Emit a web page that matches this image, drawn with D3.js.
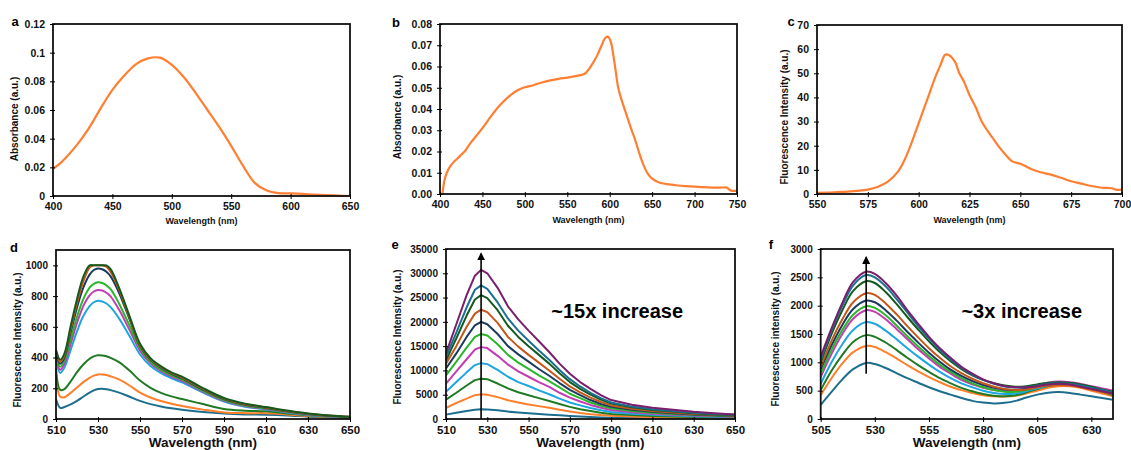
<!DOCTYPE html>
<html>
<head>
<meta charset="utf-8">
<script src="https://cdn.jsdelivr.net/npm/d3@7"></script>
<style>
  body { margin: 0; background: #fff; }
  svg { display: block; font-family: "Liberation Sans", Arial, sans-serif; font-weight: bold; }
</style>
</head>
<body>
<div id="chart"></div>
<script>
// ---- panel a: absorbance ----
const aWl = [400,405,410,420,430,440,450,460,470,480,490,500,510,520,530,540,550,560,570,580,590,600,610,620,630,640,650];
const aAbs = [0.019,0.022,0.026,0.0355,0.047,0.061,0.074,0.084,0.092,0.096,0.0965,0.0915,0.083,0.072,0.060,0.048,0.035,0.021,0.009,0.0038,0.002,0.0018,0.0015,0.001,0.0006,0.0003,0.0];

// ---- panel b: absorbance ----
const bWl = [403,405,408,412,416,420,425,430,435,440,450,460,470,480,490,500,510,520,530,540,550,560,570,575,580,585,590,595,598,601,604,607,610,615,620,625,630,635,640,645,650,655,660,670,680,690,700,710,720,730,738,741,744,750];
const bAbs = [0,0.006,0.010,0.013,0.015,0.0165,0.0185,0.0205,0.0235,0.026,0.031,0.0365,0.0415,0.0455,0.0485,0.0502,0.0512,0.0525,0.0535,0.0542,0.0548,0.0555,0.0565,0.0585,0.0615,0.065,0.0695,0.0735,0.074,0.072,0.066,0.058,0.050,0.043,0.037,0.031,0.0255,0.019,0.0135,0.0095,0.0072,0.006,0.0052,0.0045,0.004,0.0037,0.0035,0.0032,0.003,0.003,0.003,0.002,0.0015,0.0015];

// ---- panel c: fluorescence ----
const cWl = [550,555,560,565,570,575,580,585,590,593,596,599,602,605,608,611,613,615,618,620,622,625,628,631,634,637,640,643,646,650,655,660,665,670,675,680,685,690,695,697,700];
const cInt = [0.5,0.6,0.8,1.0,1.3,1.8,3.0,5.2,9.5,14,20,27,34,41,48,54,57.7,57.5,54.5,50,47,41,36,30,26,22.5,19,16,13.5,12.5,10.5,9,8,6.7,5.3,4.3,3.3,2.6,2.4,1.8,1.8];

// ---- panel d: fluorescence titration (saturates at 1000) ----
const dWl = [510,512,514,517,520,523,526,528,530,532,534,536,540,545,550,555,560,565,570,580,590,600,610,620,630,640,650];
const d1 = [130,72,78,95,118,145,172,186,195,197,194,188,172,145,118,97,82,70,60,45,35,30,28,23,15,9,5];
const d2 = [270,145,142,170,205,240,268,282,290,290,286,278,258,218,172,140,117,99,84,61,43,38,38,30,20,12,6];
const d3v = [330,190,195,245,305,355,392,408,415,414,408,398,370,315,250,203,170,147,130,97,65,54,50,36,25,15,8];
const d4 = [380,300,335,450,570,670,735,760,770,765,752,728,655,540,420,345,298,265,238,172,114,80,62,42,26,16,10];
const d5 = [395,320,360,490,625,735,805,830,840,836,822,798,712,580,445,362,312,276,248,178,118,84,65,45,29,18,10];
const d6 = [410,340,380,520,665,780,855,880,890,885,870,845,752,608,460,372,320,284,256,184,123,88,68,47,31,19,11];
const d7 = [430,360,400,565,725,855,940,970,980,975,958,928,822,650,475,385,332,294,264,192,129,93,72,50,33,21,13];
const d8 = [440,372,412,585,755,895,985,1000,1000,1000,992,958,842,660,482,390,337,299,270,196,133,96,75,52,34,22,14];
const d9 = [450,385,425,605,780,925,1000,1000,1000,1000,1000,975,855,670,490,396,343,304,276,201,137,100,78,55,36,23,15];

// ---- panel e ----
const eWl = [510,515,520,524,527,530,535,540,545,550,555,560,565,570,575,580,585,590,600,610,620,630,640,650];
const e1 = [900,1300,1650,1900,2000,1980,1780,1520,1340,1190,1050,900,750,610,500,400,320,260,200,160,130,100,80,60];
const e2 = [2300,3300,4200,4900,5100,5000,4500,3850,3400,3000,2650,2300,1900,1550,1250,1000,800,650,490,380,310,250,200,150];
const e3 = [4000,5400,6900,8000,8300,8200,7300,6300,5500,4900,4300,3700,3100,2500,2000,1650,1300,1050,800,620,500,400,320,250];
const e4 = [5600,7600,9600,11100,11500,11300,10100,8700,7600,6800,5900,5100,4200,3400,2800,2250,1800,1450,1100,850,700,550,450,350];
const e5 = [7300,9800,12300,14300,14800,14600,13000,11200,9800,8700,7600,6600,5400,4400,3600,2900,2300,1850,1400,1100,900,700,550,450];
const e6 = [9000,11800,14700,16900,17500,17200,15400,13200,11600,10300,9000,7800,6500,5200,4300,3400,2700,2200,1650,1300,1050,850,650,500];
const e7 = [10400,13500,16900,19300,20000,19500,17500,15000,13300,11800,10300,8900,7400,6000,4900,3900,3100,2500,1900,1500,1200,950,750,600];
const e8 = [11400,15000,19000,21700,22500,22000,19800,16900,14900,13200,11600,10000,8300,6700,5500,4400,3500,2800,2100,1650,1350,1050,850,650];
const e9 = [12100,16600,21300,24600,25500,24900,22400,19200,16900,15000,13200,11400,9400,7600,6200,5000,4000,3200,2400,1850,1550,1200,950,750];
const e10 = [12800,17800,23000,26600,27500,26800,24000,20700,18200,16100,14100,12200,10100,8200,6700,5400,4300,3400,2550,2000,1650,1300,1050,850];
const e11 = [13500,19500,25500,29500,30700,30000,27000,23200,20500,18200,16000,13800,11400,9300,7600,6200,4900,3900,2950,2300,1900,1500,1200,950];

// ---- panel f ----
const fWl = [505,510,515,520,526,530,535,540,545,550,555,560,565,570,575,580,585,590,595,600,605,610,615,620,625,630,635,640];
const f1 = [250,480,700,880,990,970,900,810,720,640,560,490,430,370,320,290,275,285,320,380,430,465,475,460,430,400,370,340];
const f2 = [420,720,980,1180,1290,1270,1180,1070,950,840,740,650,570,510,460,420,400,395,410,450,500,550,580,580,550,500,450,400];
const f3 = [510,850,1130,1360,1480,1450,1350,1220,1080,950,830,720,630,550,490,440,410,400,420,470,530,580,610,610,580,530,480,420];
const f4 = [620,1000,1320,1570,1710,1680,1560,1410,1250,1100,960,830,720,630,560,500,460,440,450,490,540,590,620,620,590,540,490,440];
const f5 = [740,1150,1500,1770,1920,1890,1760,1590,1410,1230,1070,920,800,690,610,550,510,490,500,540,600,640,660,650,620,580,540,500];
const f6 = [800,1220,1570,1840,1990,1960,1830,1650,1460,1280,1110,960,830,720,630,560,510,480,480,510,560,600,620,610,580,540,490,450];
const f7 = [880,1300,1660,1940,2090,2060,1920,1740,1540,1350,1170,1010,870,760,670,600,550,520,510,530,570,610,630,620,590,550,500,460];
const f8 = [920,1380,1760,2060,2220,2190,2040,1850,1640,1440,1250,1080,930,810,710,630,570,530,510,520,560,590,600,590,560,520,480,440];
const f9 = [1000,1500,1920,2260,2430,2400,2240,2030,1800,1580,1370,1180,1020,880,770,690,630,590,570,580,610,640,650,640,610,570,520,480];
const f10 = [1050,1560,2000,2360,2540,2500,2340,2120,1880,1640,1420,1220,1050,900,780,690,620,575,555,560,590,620,630,620,590,550,510,470];
const f11 = [1100,1600,2050,2420,2600,2560,2400,2180,1920,1680,1450,1250,1080,920,800,700,630,580,560,560,580,610,620,610,570,530,490,450];

// series colours, low concentration -> high
const titrationColors = ["#1d6e8e","#ff7f2a","#1f7a23","#1ea6e0","#c23db4","#2bb52b","#1b3b5e","#c5571a","#145a1f","#1c6f90","#7a1f6c"];

// ticks
const aXTicks = [400,450,500,550,600,650], aYTicks = [0,0.02,0.04,0.06,0.08,0.1,0.12];
const bXTicks = [400,450,500,550,600,650,700,750], bYTicks = [0,0.01,0.02,0.03,0.04,0.05,0.06,0.07,0.08];
const cXTicks = [550,575,600,625,650,675,700], cYTicks = [0,10,20,30,40,50,60,70];
const dXTicks = [510,530,550,570,590,610,630,650], dYTicks = [0,200,400,600,800,1000];
const eXTicks = [510,530,550,570,590,610,630,650], eYTicks = [0,5000,10000,15000,20000,25000,30000,35000];
const fXTicks = [505,530,555,580,605,630], fYTicks = [0,500,1000,1500,2000,2500,3000];

// arrows and notes
const eArrow = { x: 527, from: 0, to: 34000 };
const fArrow = { x: 526, from: 800, to: 2850 };
const eNote = { text: "~15x increase", x: 561, y: 20800 };
const fNote = { text: "~3x increase", x: 570, y: 1780 };

const svg = d3.select("#chart").append("svg")
    .attr("width", 1131)
    .attr("height", 450);

svg.append("defs").append("marker")
    .attr("id", "arrowhead")
    .attr("viewBox", "0 0 10 10")
    .attr("refX", 8).attr("refY", 5)
    .attr("markerWidth", 5).attr("markerHeight", 6)
    .attr("orient", "auto")
    .append("path")
    .attr("d", "M0,0 L10,5 L0,10 z")
    .attr("fill", "#000");

const trimDecimals = d => String(+d.toFixed(2));

function drawPanel(p) {
    const x = d3.scaleLinear().domain(p.xDomain).range([p.left, p.right]);
    const y = d3.scaleLinear().domain(p.yDomain).range([p.bottom, p.top]);
    const g = svg.append("g");

    // curves
    const line = d3.line()
        .x(d => x(d[0]))
        .y(d => y(d[1]))
        .curve(p.curve);

    p.series.forEach((vals, i) => {
        g.append("path")
            .datum(d3.zip(p.wl, vals))
            .attr("fill", "none")
            .attr("stroke", p.colors[i])
            .attr("stroke-width", p.lineWidth)
            .attr("stroke-linejoin", "round")
            .attr("d", line);
    });

    // plot frame
    g.append("rect")
        .attr("x", p.left).attr("y", p.top)
        .attr("width", p.right - p.left).attr("height", p.bottom - p.top)
        .attr("fill", "none")
        .attr("stroke", "#111")
        .attr("stroke-width", 1.8);

    // x axis (outer ticks + labels, then short inner ticks)
    const xa = g.append("g")
        .attr("transform", `translate(0,${p.bottom})`)
        .call(d3.axisBottom(x).tickValues(p.xTicks).tickSize(3).tickPadding(4).tickFormat(d3.format("d")));
    xa.select(".domain").remove();
    xa.attr("font-family", null).attr("font-size", p.xTickSize);
    xa.selectAll("text").attr("fill", "#111");
    g.append("g")
        .attr("transform", `translate(0,${p.bottom})`)
        .call(d3.axisBottom(x).tickValues(p.xTicks).tickSize(-2).tickFormat(""))
        .select(".domain").remove();

    // y axis
    const ya = g.append("g")
        .attr("transform", `translate(${p.left},0)`)
        .call(d3.axisLeft(y).tickValues(p.yTicks).tickSize(3).tickPadding(5).tickFormat(p.yFormat));
    ya.select(".domain").remove();
    ya.attr("font-family", null).attr("font-size", p.yTickSize);
    ya.selectAll("text").attr("fill", "#111");
    g.append("g")
        .attr("transform", `translate(${p.left},0)`)
        .call(d3.axisLeft(y).tickValues(p.yTicks).tickSize(-2).tickFormat(""))
        .select(".domain").remove();

    // axis titles
    g.append("text")
        .attr("x", (p.left + p.right) / 2)
        .attr("y", p.bottom + p.xTitleDy)
        .attr("text-anchor", "middle")
        .attr("font-size", p.xTitleSize)
        .attr("fill", "#111")
        .text("Wavelength (nm)");

    g.append("text")
        .attr("transform", `translate(${p.left - p.yTitleDx},${(p.top + p.bottom) / 2 + p.yTitleDy}) rotate(-90)`)
        .attr("text-anchor", "middle")
        .attr("dominant-baseline", "central")
        .attr("font-size", 10)
        .attr("fill", "#111")
        .text(p.yTitle);

    // panel letter
    g.append("text")
        .attr("x", p.letterX).attr("y", p.letterY)
        .attr("text-anchor", "middle")
        .attr("font-size", 13)
        .attr("fill", "#000")
        .text(p.letter);

    // concentration arrow and note
    if (p.arrow) {
        g.append("line")
            .attr("x1", x(p.arrow.x)).attr("x2", x(p.arrow.x))
            .attr("y1", y(p.arrow.from)).attr("y2", y(p.arrow.to))
            .attr("stroke", "#000")
            .attr("stroke-width", 1.6)
            .attr("marker-end", "url(#arrowhead)");
    }
    if (p.note) {
        g.append("text")
            .attr("x", x(p.note.x)).attr("y", y(p.note.y))
            .attr("font-size", 20)
            .attr("fill", "#000")
            .text(p.note.text);
    }
}

const orange = ["#ff7f32"];

drawPanel({
    letter: "a", letterX: 15, letterY: 26,
    left: 53, right: 350, top: 24, bottom: 196,
    xDomain: [400, 650], yDomain: [0, 0.12],
    xTicks: aXTicks, yTicks: aYTicks, yFormat: trimDecimals,
    wl: aWl, series: [aAbs], colors: orange, lineWidth: 2.2, curve: d3.curveCatmullRom,
    xTickSize: 10.5, yTickSize: 10.5, xTitleSize: 9, xTitleDy: 28,
    yTitle: "Absorbance (a.u.)", yTitleDx: 39, yTitleDy: 9
});

drawPanel({
    letter: "b", letterX: 396, letterY: 27,
    left: 440, right: 737, top: 24, bottom: 194,
    xDomain: [400, 750], yDomain: [0, 0.08],
    xTicks: bXTicks, yTicks: bYTicks, yFormat: d3.format(".2f"),
    wl: bWl, series: [bAbs], colors: orange, lineWidth: 2.2, curve: d3.curveCatmullRom,
    xTickSize: 10.5, yTickSize: 10.5, xTitleSize: 9, xTitleDy: 29,
    yTitle: "Absorbance (a.u.)", yTitleDx: 42.5, yTitleDy: 8
});

drawPanel({
    letter: "c", letterX: 791, letterY: 26,
    left: 817, right: 1122, top: 25, bottom: 194,
    xDomain: [550, 700], yDomain: [0, 70],
    xTicks: cXTicks, yTicks: cYTicks, yFormat: d3.format("d"),
    wl: cWl, series: [cInt], colors: orange, lineWidth: 2.2, curve: d3.curveCatmullRom,
    xTickSize: 10.5, yTickSize: 10.5, xTitleSize: 9, xTitleDy: 29,
    yTitle: "Fluorescence Intensity (a.u.)", yTitleDx: 32.5, yTitleDy: 7.5
});

drawPanel({
    letter: "d", letterX: 14, letterY: 252,
    left: 56, right: 350, top: 250, bottom: 419,
    xDomain: [510, 650], yDomain: [0, 1100],
    xTicks: dXTicks, yTicks: dYTicks, yFormat: d3.format("d"),
    wl: dWl, series: [d1, d2, d3v, d4, d5, d6, d7, d8, d9],
    colors: ["#1d6e8e","#ff7f2a","#1f7a23","#1ea6e0","#c23db4","#2bb52b","#1b3b5e","#c5571a","#145a1f"],
    lineWidth: 2, curve: d3.curveCatmullRom,
    xTickSize: 11.5, yTickSize: 10, xTitleSize: 13.5, xTitleDy: 28,
    yTitle: "Fluorescence Intensity (a.u.)", yTitleDx: 39, yTitleDy: 5.5
});

drawPanel({
    letter: "e", letterX: 395, letterY: 249,
    left: 446, right: 735, top: 249, bottom: 419,
    xDomain: [510, 650], yDomain: [0, 35000],
    xTicks: eXTicks, yTicks: eYTicks, yFormat: d3.format("d"),
    wl: eWl, series: [e1, e2, e3, e4, e5, e6, e7, e8, e9, e10, e11],
    colors: titrationColors, lineWidth: 2, curve: d3.curveLinear,
    xTickSize: 11.5, yTickSize: 10, xTitleSize: 13.5, xTitleDy: 28,
    yTitle: "Fluorescence Intensity (a.u.)", yTitleDx: 49, yTitleDy: 3,
    arrow: eArrow, note: eNote
});

drawPanel({
    letter: "f", letterX: 771, letterY: 249,
    left: 820.7, right: 1113, top: 249, bottom: 419,
    xDomain: [505, 640], yDomain: [0, 3000],
    xTicks: fXTicks, yTicks: fYTicks, yFormat: d3.format("d"),
    wl: fWl, series: [f1, f2, f3, f4, f5, f6, f7, f8, f9, f10, f11],
    colors: titrationColors, lineWidth: 2, curve: d3.curveCatmullRom,
    xTickSize: 11.5, yTickSize: 10, xTitleSize: 13.5, xTitleDy: 28,
    yTitle: "Fluorescence intensity (a.u.)", yTitleDx: 45.5, yTitleDy: 5,
    arrow: fArrow, note: fNote
});
</script>
</body>
</html>
